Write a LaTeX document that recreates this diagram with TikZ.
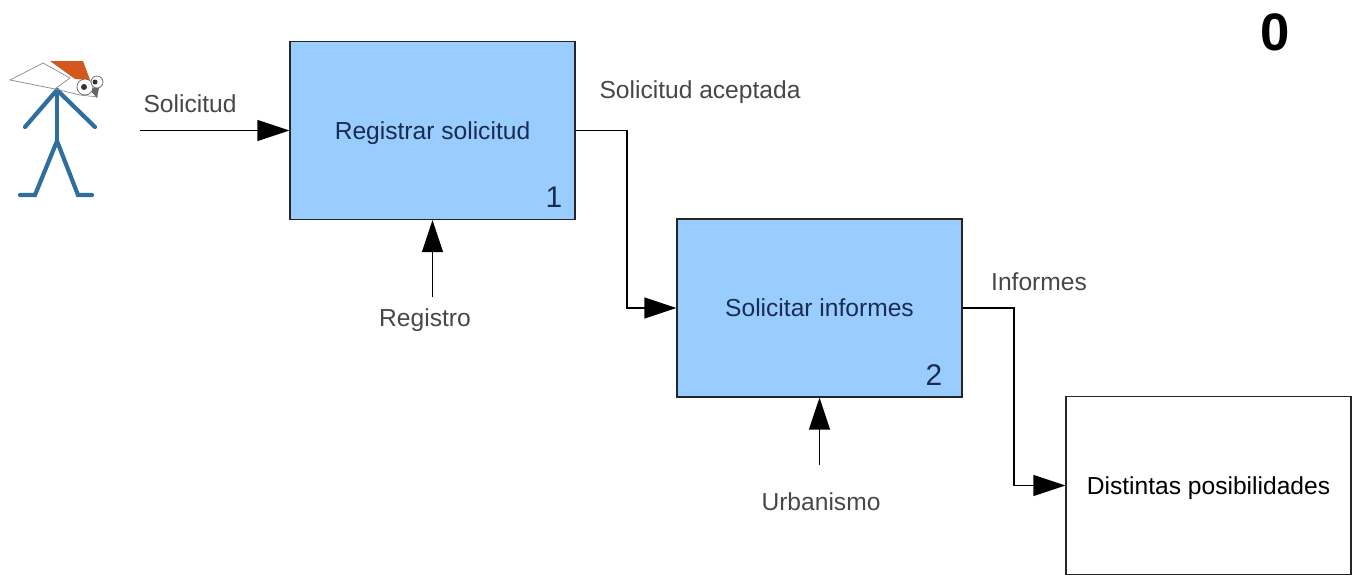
\documentclass[tikz,border=0pt]{standalone}
\usepackage{fontspec}
\setmainfont{Liberation Sans}
\usetikzlibrary{arrows.meta}
\definecolor{boxblue}{HTML}{99CCFF}
\definecolor{boxtext}{HTML}{1A2C50}
\definecolor{manblue}{HTML}{2F6F9F}
\definecolor{hatorange}{HTML}{D4581C}
\tikzset{
    proceso/.style={draw=black!85,thick,minimum width=5.7cm,minimum height=3.56cm,inner sep=0pt,text depth=0pt,font=\fontsize{14}{16}\selectfont},
    etiqueta/.style={inner sep=0pt,text=black!72,font=\fontsize{14}{16}\selectfont},
    numero/.style={inner sep=0pt,text=boxtext,font=\fontsize{17}{19}\selectfont},
    flecha/.style={thick,-{Triangle[length=0.64cm,width=0.42cm]}},
    palo/.style={manblue,line width=2.4pt,line cap=round},
}
\begin{document}
\begin{tikzpicture}[x=0.02cm,y=-0.02cm]
            \useasboundingbox (0,0) rectangle (1355,575);

            \node[proceso,fill=boxblue,text=boxtext] (registrar) at (432.5,130.5) {Registrar solicitud};
            \node[proceso,fill=boxblue,text=boxtext] (solicitar) at (819.5,308) {Solicitar informes};
            \node[proceso] (posibilidades) at (1208.5,485.5) {Distintas posibilidades};

            \node[numero] (uno) at (554,197) {1};
            \node[numero] (dos) at (934,375) {2};
            \node[inner sep=0pt,font=\fontsize{30}{32}\selectfont\bfseries] (cero) at (1275,32) {0};

            \node[etiqueta] (solicitud) at (190,104) {Solicitud};
            \node[etiqueta] (aceptada) at (700,92) {Solicitud aceptada};
            \node[etiqueta] (informes) at (1039,282) {Informes};
            \node[etiqueta] (registro) at (425,320) {Registro};
            \node[etiqueta] (urbanismo) at (821,502) {Urbanismo};

            \coordinate (entrada) at (140,130.5);
            \coordinate (pieregistro) at (432.5,297);
            \coordinate (pieurbanismo) at (819.5,465);

            \draw[flecha] (entrada) -- (registrar.west);
            \draw[flecha] (registrar.east) -- (627,130.5) -- (627,308) -- (solicitar.west);
            \draw[flecha] (solicitar.east) -- (1014,308) -- (1014,485.5) -- (posibilidades.west);
            \draw[flecha] (pieregistro) -- (registrar.south);
            \draw[flecha] (pieurbanismo) -- (solicitar.south);

            % monigote
            \draw[palo] (57,90) -- (57,141);
            \draw[palo] (25,127) -- (57,90) -- (95,127);
            \draw[palo] (20,195) -- (35,195) -- (57,141) -- (78,195) -- (92,195);

            \draw[black!45,fill=white] (10,80) -- (43,63) -- (70,78) -- (55,89) -- cycle;
            \draw[black!45] (55,89) -- (80,95) -- (98,97);
            \fill[hatorange] (50,61) -- (83,61) -- (90,80) -- (75,79) -- cycle;
            \fill[black!60] (88,88) -- (99,88) -- (97,98) -- cycle;
            \draw[black!60,fill=white] (85,87) circle (8);
            \draw[black!60,fill=white] (97,82) circle (6);
            \fill[black!80] (84,87) circle (3);
            \fill[black!80] (95,82) circle (2.5);
        \end{tikzpicture}
\end{document}
